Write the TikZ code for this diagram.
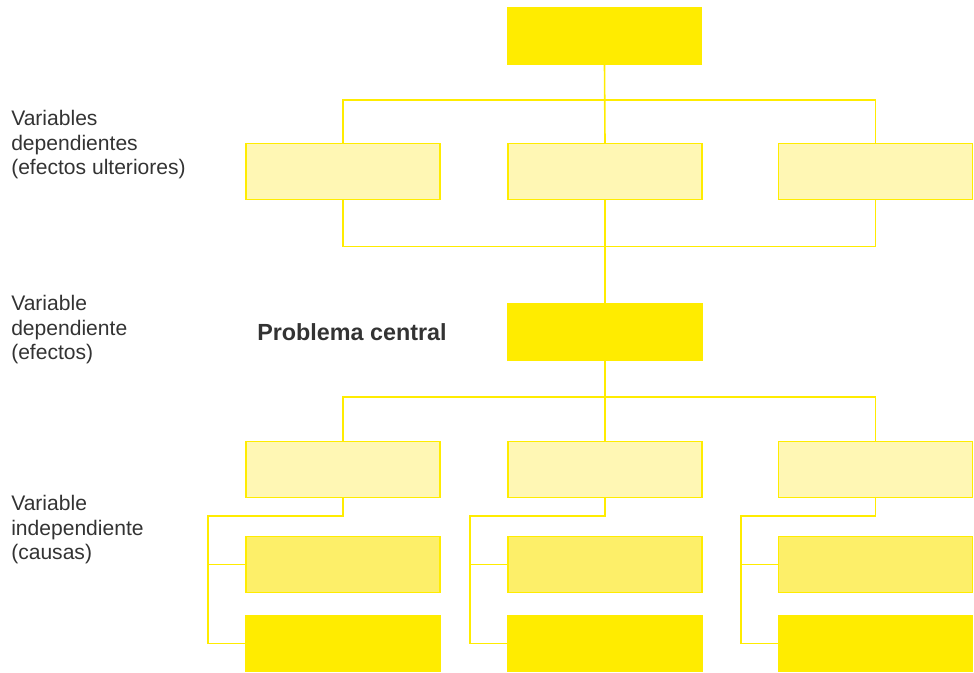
\documentclass[tikz,border=0pt]{standalone}
\usepackage{fontspec}
\setmainfont{Liberation Sans}
\usetikzlibrary{calc}
\definecolor{yelbright}{RGB}{255,236,0}
\definecolor{yelmedium}{RGB}{253,239,105}
\definecolor{yelpale}{RGB}{255,247,180}
\definecolor{labelgray}{RGB}{51,51,51}
\tikzset{
    box/.style={rectangle, draw=yelbright, line width=1.1pt, minimum width=145.5pt, minimum height=42pt, inner sep=0pt},
    link/.style={draw=yelbright, line width=1.2pt},
    sidelabel/.style={anchor=west, align=left, inner sep=0pt, text=labelgray, font=\fontsize{15.8}{18.4}\selectfont}
}
\newcommand{\drawcausebranch}[1]{
    \draw [link] (c#1.south) -- ++(0,18) -| ($(f#1.west)+(-37,0)$) -- (f#1.west);
    \draw [link] ($(e#1.west)+(-37,0)$) -- (e#1.west);
}

\begin{document}
\begin{tikzpicture}[x=0.75pt, y=-0.75pt]
    \useasboundingbox (0,0) rectangle (974,672);
    \node [box, fill=yelbright] (top) at (604.5,36) {};
    \node [box, fill=yelpale] (a1) at (343,171.5) {};
    \node [box, fill=yelpale] (a2) at (605,171.5) {};
    \node [box, fill=yelpale] (a3) at (875.5,171.5) {};
    \node [box, fill=yelbright] (central) at (605,332) {};
    \node [box, fill=yelpale] (c1) at (343,469.5) {};
    \node [box, fill=yelpale] (c2) at (605,469.5) {};
    \node [box, fill=yelpale] (c3) at (875.5,469.5) {};
    \node [box, fill=yelmedium] (e1) at (343,564.5) {};
    \node [box, fill=yelmedium] (e2) at (605,564.5) {};
    \node [box, fill=yelmedium] (e3) at (875.5,564.5) {};
    \node [box, fill=yelbright] (f1) at (343,643.5) {};
    \node [box, fill=yelbright] (f2) at (605,643.5) {};
    \node [box, fill=yelbright] (f3) at (875.5,643.5) {};

    \node [sidelabel] (lblulterior) at (11,145) {Variables\\dependientes\\(efectos ulteriores)};
    \node [sidelabel] (lblefecto) at (11,330) {Variable\\dependiente\\(efectos)};
    \node [sidelabel] (lblcausa) at (11,530) {Variable\\independiente\\(causas)};
    \node [anchor=base west, inner sep=0pt, text=labelgray, font=\fontsize{17.5}{20}\selectfont\bfseries] (lblcentral) at (257,340) {Problema central};

    \draw [link] (top.south) -- (a2.north);
    \draw [link] (a1.north) |- ($(top.south)!0.45!(a2.north)$) -| (a3.north);
    \draw [link] (a2.south) -- (central.north);
    \draw [link] (a1.south) |- ($(a2.south)!0.45!(central.north)$) -| (a3.south);
    \draw [link] (central.south) -- (c2.north);
    \draw [link] (c1.north) |- ($(central.south)!0.45!(c2.north)$) -| (c3.north);
    \drawcausebranch{1}
    \drawcausebranch{2}
    \drawcausebranch{3}
\end{tikzpicture}
\end{document}
